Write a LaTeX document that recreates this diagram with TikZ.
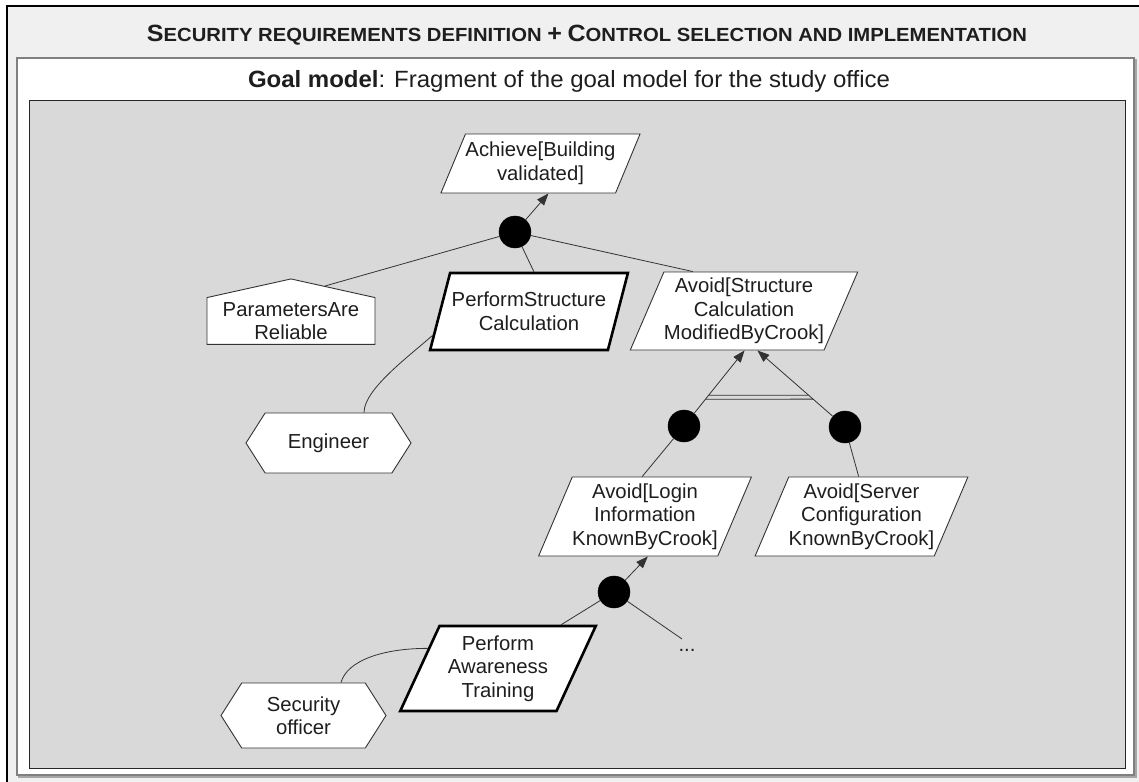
\documentclass[tikz,border=0pt]{standalone}
\usepackage{fontspec}
\setmainfont{Liberation Sans}
\usepackage{graphicx}
\usetikzlibrary{shapes.geometric,shapes.symbols,arrows.meta,calc}

\definecolor{outerbg}{HTML}{F0F0F0}
\definecolor{panelbg}{HTML}{D9D9D9}
\definecolor{ink}{HTML}{1E1E1E}
\definecolor{edge}{HTML}{333333}

% fake small caps for the heading
\newcommand{\hdbig}[1]{{\fontsize{23.5}{23.5}\selectfont #1}}
\newcommand{\hdsmall}[1]{{\fontsize{19}{19}\selectfont #1}}

\tikzset{
  lbl/.style={font=\fontsize{20.3}{23.5}\selectfont, text=ink, align=center, inner sep=0pt},
  goal/.style={lbl, trapezium, trapezium left angle=63, trapezium right angle=117,
    trapezium stretches=true, draw=edge, line width=0.9pt, fill=white},
  opgoal/.style={goal, draw=black, line width=2.6pt},
  agent/.style={lbl, signal, signal to=west and east, signal pointer angle=115,
    draw=edge, line width=0.9pt, fill=white},
  domprop/.style={lbl, signal, signal to=north, signal pointer angle=155,
    draw=edge, line width=0.9pt, fill=white},
  andnode/.style={circle, fill=black, draw=black, minimum size=32pt, inner sep=0pt},
  conn/.style={draw=edge, line width=0.8pt},
  arr/.style={conn, -{Triangle[length=12pt,width=9pt]}},
}

\begin{document}
\begin{tikzpicture}[x=1pt,y=-1pt]
\useasboundingbox (0,0) rectangle (1139,781);
\clip (0,0) rectangle (1139,781);

% frames
\filldraw[fill=outerbg, draw=black, line width=1.2pt] (7,6) rectangle (1160,800);
\draw[black!35, line width=1.2pt] (19,60) rectangle (1136,777);
\filldraw[fill=white, draw=black!50, line width=1.2pt] (17,58) rectangle (1134,775);
\filldraw[fill=panelbg, draw=black!85, line width=0.9pt] (29,100) rectangle (1125,768);

% headings
\node[anchor=base, text=ink, inner sep=0pt] (title) at (587,42)
  {\resizebox{880pt}{\height}{\bfseries\hdbig{S}\hdsmall{ECURITY REQUIREMENTS DEFINITION }\hdbig{+}\hdsmall{ }\hdbig{C}\hdsmall{ONTROL SELECTION AND IMPLEMENTATION}}};
\node[anchor=base, text=ink, inner sep=0pt] (subtitle) at (569,88)
  {\resizebox{642pt}{\height}{\fontsize{23.5}{23.5}\selectfont\textbf{Goal model}: Fragment of the goal model for the study office}};

% goals
\node[goal, trapezium left angle=60, trapezium right angle=120,
  minimum width=193pt, minimum height=59pt] (ach) at (540.5,163.5) {Achieve[Building\\validated]};
\node[opgoal, minimum width=198pt, minimum height=77pt] (psc) at (529,311.5) {PerformStructure\\Calculation};
\node[goal, minimum width=224pt, minimum height=78pt] (asm) at (744,311) {Avoid[Structure\\Calculation\\ModifiedByCrook]};
\node[goal, minimum width=196pt, minimum height=79pt] (alk) at (645,516.5) {Avoid[Login\\Information\\KnownByCrook]};
\node[goal, minimum width=197pt, minimum height=79pt] (ask) at (861.5,516.5) {Avoid[Server\\Configuration\\KnownByCrook]};
\node[opgoal, minimum width=196pt, minimum height=85pt] (pat) at (498,668.5) {Perform\\Awareness\\Training};

% domain property and agents
\node[domprop, minimum width=168pt, minimum height=62pt] (par) at (291,321) {ParametersAre\\Reliable};
\node[agent, minimum width=165pt, minimum height=60pt] (eng) at (328.5,443) {Engineer};
\node[agent, minimum width=165pt, minimum height=65pt] (sec) at (303.5,715.5) {Security\\officer};

% refinement nodes
\node[andnode] (and1) at (515,232) {};
\node[andnode] (and2) at (684,426) {};
\node[andnode] (and3) at (845,427) {};
\node[andnode] (and4) at (614,592) {};

\node[lbl, anchor=base] (dots) at (687,651) {...};
\coordinate (more) at (682,639);

% refinement links
\draw[arr] (and1) -- ($(ach.bottom left corner)!0.616!(ach.bottom right corner)$);
\draw[conn] (and1) -- ($(par.north)+(34,7.5)$);
\draw[conn] (and1) -- ($(psc.top left corner)!0.47!(psc.top right corner)$);
\draw[conn] (and1) -- ($(asm.top left corner)!0.15!(asm.top right corner)$);

\coordinate (tipL) at ($(asm.bottom left corner)!0.59!(asm.bottom right corner)$);
\coordinate (tipR) at ($(asm.bottom left corner)!0.656!(asm.bottom right corner)$);
\draw[arr] (and2) -- (tipL);
\draw[arr] (and3) -- (tipR);
\draw[conn] ($(and2)!0.408!(tipL)$) -- ($(and3)!0.416!(tipR)$);
\draw[conn] ($(and2)!0.355!(tipL)$) -- ($(and3)!0.364!(tipR)$);

\draw[conn] (and2) -- ($(alk.top left corner)!0.39!(alk.top right corner)$);
\draw[conn] (and3) -- ($(ask.top left corner)!0.39!(ask.top right corner)$);
\draw[arr] (and4) -- ($(alk.bottom left corner)!0.61!(alk.bottom right corner)$);
\draw[conn] (and4) -- ($(pat.top left corner)!0.77!(pat.top right corner)$);
\draw[conn] (and4) -- (more);

% responsibility links
\draw[conn] ([xshift=35.5pt]eng.north) .. controls +(0,-23) and +(-25,22) ..
  ($(psc.bottom left corner)!0.2!(psc.top left corner)$);
\draw[conn] ([xshift=37.5pt]sec.north) .. controls +(6,-22) and +(-45,0) ..
  ($(pat.bottom left corner)!0.73!(pat.top left corner)$);
\end{tikzpicture}
\end{document}
